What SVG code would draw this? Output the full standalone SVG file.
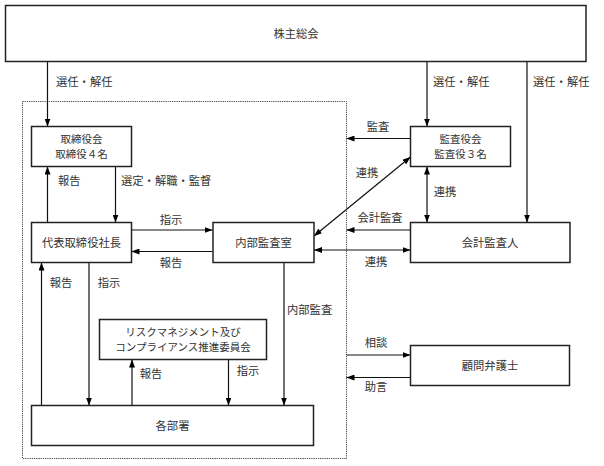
<svg xmlns="http://www.w3.org/2000/svg" width="604" height="466" viewBox="0 0 604 466">
<defs>
<marker id="ah" viewBox="0 0 8 6" refX="8" refY="3" markerWidth="8" markerHeight="6" markerUnits="userSpaceOnUse" orient="auto-start-reverse">
<path d="M0,0 L8,3 L0,6 z" fill="#000"/>
</marker>
<style>
.box{fill:#fff;stroke:#222;stroke-width:1.5}
.frame{fill:none;stroke:#444;stroke-width:1;stroke-dasharray:1.2 1}
.ln{fill:none;stroke:#111;stroke-width:1.2}
.a{marker-end:url(#ah)}
.d{marker-start:url(#ah);marker-end:url(#ah)}
text{font-family:"Noto Sans CJK JP","Liberation Serif",serif;font-size:11.3px;fill:#333}
.c{text-anchor:middle}
.two{font-size:10.5px}
</style>
</defs>
<rect width="604" height="466" fill="#fff"/>
<rect class="frame" x="22.5" y="101.5" width="324" height="357"/>
<g id="connectors">
<line class="ln a" x1="47.5" y1="61.5" x2="47.5" y2="126.5"/>
<line class="ln a" x1="427" y1="61.5" x2="427" y2="126.5"/>
<line class="ln a" x1="527" y1="61.5" x2="527" y2="222.5"/>
<line class="ln a" x1="47.5" y1="222.5" x2="47.5" y2="166.5"/>
<line class="ln a" x1="115.5" y1="166.5" x2="115.5" y2="222.5"/>
<line class="ln a" x1="131.5" y1="230" x2="212.5" y2="230"/>
<line class="ln a" x1="212.5" y1="251.5" x2="131.5" y2="251.5"/>
<line class="ln a" x1="410.5" y1="138.5" x2="346.5" y2="138.5"/>
<line class="ln d" x1="314" y1="236" x2="410.5" y2="157"/>
<line class="ln d" x1="427" y1="166.5" x2="427" y2="222.5"/>
<line class="ln a" x1="410.5" y1="230" x2="346.5" y2="230"/>
<line class="ln d" x1="314" y1="250" x2="410.5" y2="250"/>
<line class="ln a" x1="41.5" y1="405.5" x2="41.5" y2="262.5"/>
<line class="ln a" x1="89" y1="262.5" x2="89" y2="405.5"/>
<line class="ln a" x1="284" y1="262.5" x2="284" y2="405.5"/>
<line class="ln a" x1="132" y1="405.5" x2="132" y2="359.5"/>
<line class="ln a" x1="228.5" y1="359.5" x2="228.5" y2="405.5"/>
<line class="ln a" x1="346.5" y1="355" x2="410.5" y2="355"/>
<line class="ln a" x1="410.5" y1="377.5" x2="346.5" y2="377.5"/>
<text x="56" y="86">選任・解任</text>
<text x="433" y="86">選任・解任</text>
<text x="533" y="86">選任・解任</text>
<text x="58" y="185">報告</text>
<text x="121" y="185">選定・解職・監督</text>
<text class="c" x="171" y="224">指示</text>
<text class="c" x="171" y="267">報告</text>
<text class="c" x="378" y="131">監査</text>
<text class="c" x="367" y="177">連携</text>
<text class="c" x="445" y="196">連携</text>
<text class="c" x="380" y="222">会計監査</text>
<text class="c" x="376" y="266">連携</text>
<text class="c" x="61" y="287">報告</text>
<text class="c" x="109" y="287">指示</text>
<text x="287" y="314">内部監査</text>
<text class="c" x="151" y="378">報告</text>
<text class="c" x="248" y="375">指示</text>
<text class="c" x="376" y="347">相談</text>
<text class="c" x="376" y="391">助言</text>
</g>
<g id="shareholders">
<rect class="box" x="5.5" y="5.5" width="580.5" height="56"/>
<text class="c" x="296" y="37.5">株主総会</text>
</g>
<g id="board">
<rect class="box" x="31.5" y="126.5" width="100" height="40"/>
<text class="c two" x="81.5" y="142.5"><tspan x="81.5">取締役会</tspan><tspan x="81.5" dy="15.4">取締役４名</tspan></text>
</g>
<g id="president">
<rect class="box" x="31.5" y="222.5" width="100" height="40"/>
<text class="c" x="81.5" y="246.5">代表取締役社長</text>
</g>
<g id="internal-audit">
<rect class="box" x="213" y="222.5" width="101" height="40"/>
<text class="c" x="263.5" y="246.5">内部監査室</text>
</g>
<g id="auditors">
<rect class="box" x="410.5" y="126.5" width="100" height="40"/>
<text class="c two" x="460.5" y="142.5"><tspan x="460.5">監査役会</tspan><tspan x="460.5" dy="15.4">監査役３名</tspan></text>
</g>
<g id="accounting-auditor">
<rect class="box" x="410.5" y="222.5" width="159.5" height="40"/>
<text class="c" x="490" y="246.5">会計監査人</text>
</g>
<g id="lawyer">
<rect class="box" x="410.5" y="345.5" width="159" height="40"/>
<text class="c" x="490" y="369.5">顧問弁護士</text>
</g>
<g id="risk-committee">
<rect class="box" x="99.5" y="319.5" width="167" height="40"/>
<text class="c two" x="183" y="335.5"><tspan x="183">リスクマネジメント及び</tspan><tspan x="183" dy="15.4">コンプライアンス推進委員会</tspan></text>
</g>
<g id="departments">
<rect class="box" x="31.5" y="405.5" width="282" height="40"/>
<text class="c" x="172.5" y="429.5">各部署</text>
</g>
</svg>
